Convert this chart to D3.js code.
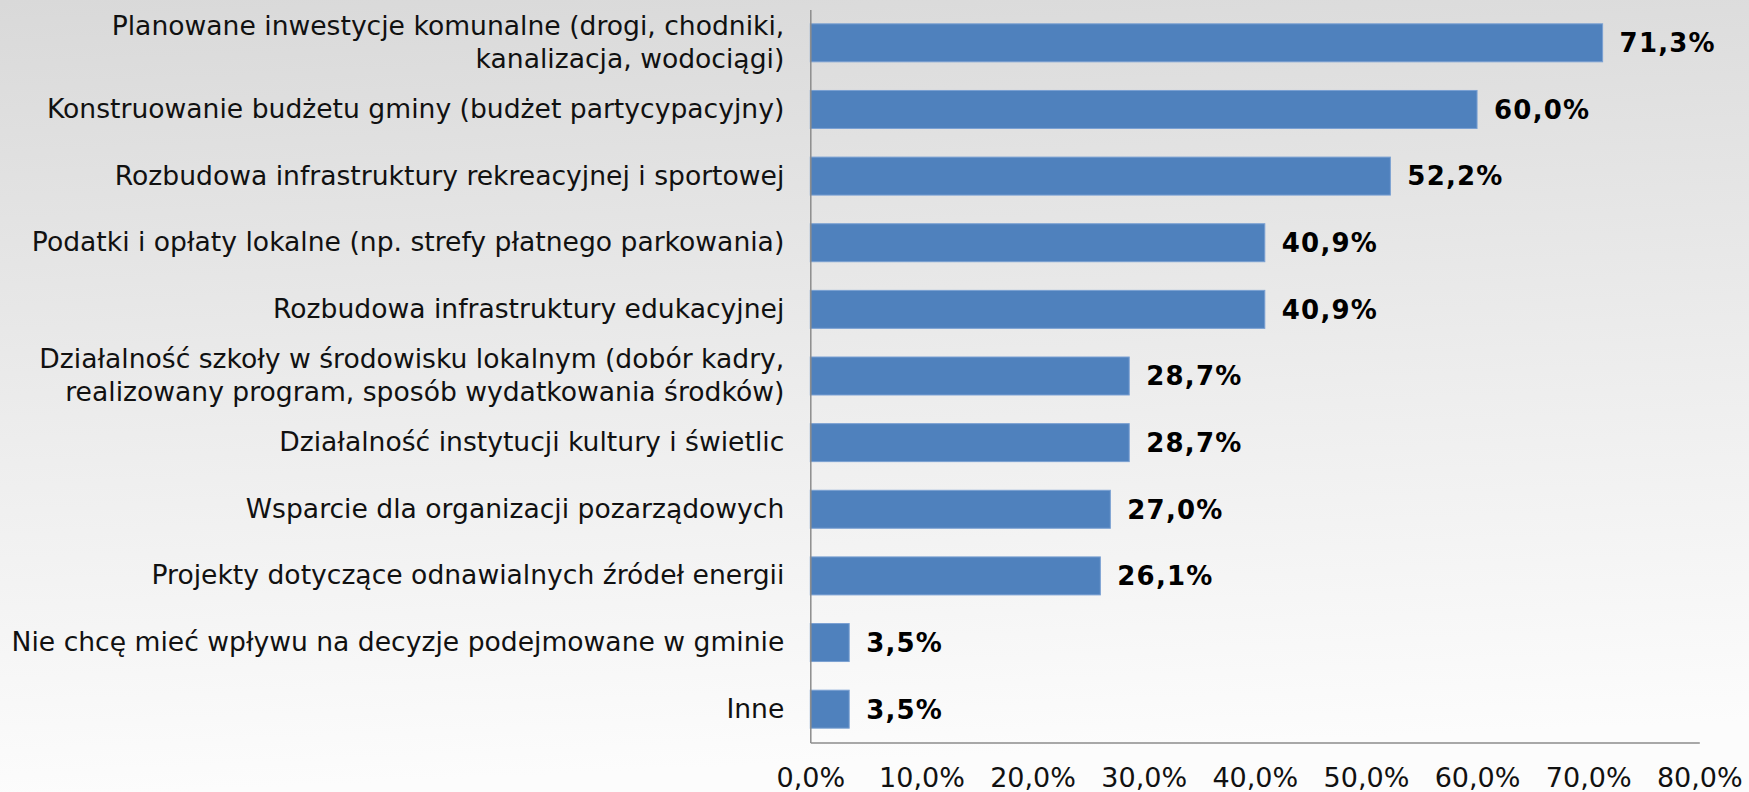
<!DOCTYPE html>
<html>
<head>
<meta charset="utf-8">
<script src="https://cdn.jsdelivr.net/npm/d3@7"></script>
<style>
  body { margin: 0; overflow: hidden; }
  svg { display: block; }
</style>
</head>
<body>
<svg id="chart"></svg>
<script>
// categories, top to bottom ("\n" marks the line breaks of the original)
const categories = [
  'Planowane inwestycje komunalne (drogi, chodniki,\nkanalizacja, wodociągi)',
  'Konstruowanie budżetu gminy (budżet partycypacyjny)',
  'Rozbudowa infrastruktury rekreacyjnej i sportowej',
  'Podatki i opłaty lokalne (np. strefy płatnego parkowania)',
  'Rozbudowa infrastruktury edukacyjnej',
  'Działalność szkoły w środowisku lokalnym (dobór kadry,\nrealizowany program, sposób wydatkowania środków)',
  'Działalność instytucji kultury i świetlic',
  'Wsparcie dla organizacji pozarządowych',
  'Projekty dotyczące odnawialnych źródeł energii',
  'Nie chcę mieć wpływu na decyzje podejmowane w gminie',
  'Inne'
];
const values = [71.3, 60.0, 52.2, 40.9, 40.9, 28.7, 28.7, 27.0, 26.1, 3.5, 3.5];
const tickValues = [0, 10, 20, 30, 40, 50, 60, 70, 80];

const width = 1749, height = 792;
const margin = { top: 9.5, right: 49.7, bottom: 49.5, left: 810.3 };

const pct = v => d3.format('.1f')(v).replace('.', ',') + '%';

const svg = d3.select('#chart')
  .attr('width', width)
  .attr('height', height)
  .style('font-family', '"DejaVu Sans", Verdana, sans-serif');

// soft grey background, darker at the top
const grad = svg.append('defs').append('linearGradient')
  .attr('id', 'bg')
  .attr('x1', 0).attr('y1', 0).attr('x2', 0.1).attr('y2', 1);
grad.append('stop').attr('offset', '0%').attr('stop-color', '#d9d9d9');
grad.append('stop').attr('offset', '55%').attr('stop-color', '#ededed');
grad.append('stop').attr('offset', '100%').attr('stop-color', '#fcfcfc');

svg.append('rect')
  .attr('width', width)
  .attr('height', height)
  .attr('fill', 'url(#bg)');

const x = d3.scaleLinear()
  .domain([0, 80])
  .range([margin.left, width - margin.right]);

const y = d3.scaleBand()
  .domain(categories)
  .range([margin.top, height - margin.bottom])
  .paddingInner(0.43)
  .paddingOuter(0.215);

// bars
svg.append('g')
  .selectAll('rect')
  .data(values)
  .join('rect')
  .attr('x', x(0))
  .attr('y', (d, i) => y(categories[i]))
  .attr('width', d => x(d) - x(0))
  .attr('height', y.bandwidth())
  .attr('fill', '#4f81bd')
  .attr('stroke', '#7aa0d2')
  .attr('stroke-width', 1);

// value labels
svg.append('g')
  .selectAll('text')
  .data(values)
  .join('text')
  .attr('x', d => x(d) + 17)
  .attr('y', (d, i) => y(categories[i]) + y.bandwidth() / 2)
  .attr('dy', '0.36em')
  .attr('font-size', 26)
  .attr('font-weight', 'bold')
  .attr('letter-spacing', 1.2)
  .attr('fill', '#000')
  .text(d => pct(d));

// y axis (category labels, no ticks)
const yAxis = svg.append('g')
  .attr('transform', `translate(${x(0)},0)`)
  .call(d3.axisLeft(y).tickSize(0).tickFormat(''));
yAxis.select('.domain').attr('stroke', '#8c8c8c').attr('stroke-width', 1.5);

yAxis.selectAll('.tick').each(function (d) {
  const lines = d.split('\n');
  const t = d3.select(this).select('text')
    .attr('font-size', 26.6)
    .attr('fill', '#111')
    .attr('font-family', '"DejaVu Sans", Verdana, sans-serif');
  t.selectAll('tspan')
    .data(lines)
    .join('tspan')
    .attr('x', -26)
    .attr('dy', (l, i) => i === 0 ? `${0.32 - (lines.length - 1) * 0.61}em` : '1.22em')
    .text(l => l);
});

// x axis
const xAxis = svg.append('g')
  .attr('transform', `translate(0,${height - margin.bottom})`)
  .call(d3.axisBottom(x).tickValues(tickValues).tickSize(0).tickPadding(25).tickFormat(pct));
xAxis.select('.domain').attr('stroke', '#8c8c8c').attr('stroke-width', 1.5);
xAxis.selectAll('text')
  .attr('font-size', 27)
  .attr('fill', '#111')
  .attr('font-family', '"DejaVu Sans", Verdana, sans-serif');
</script>
</body>
</html>
